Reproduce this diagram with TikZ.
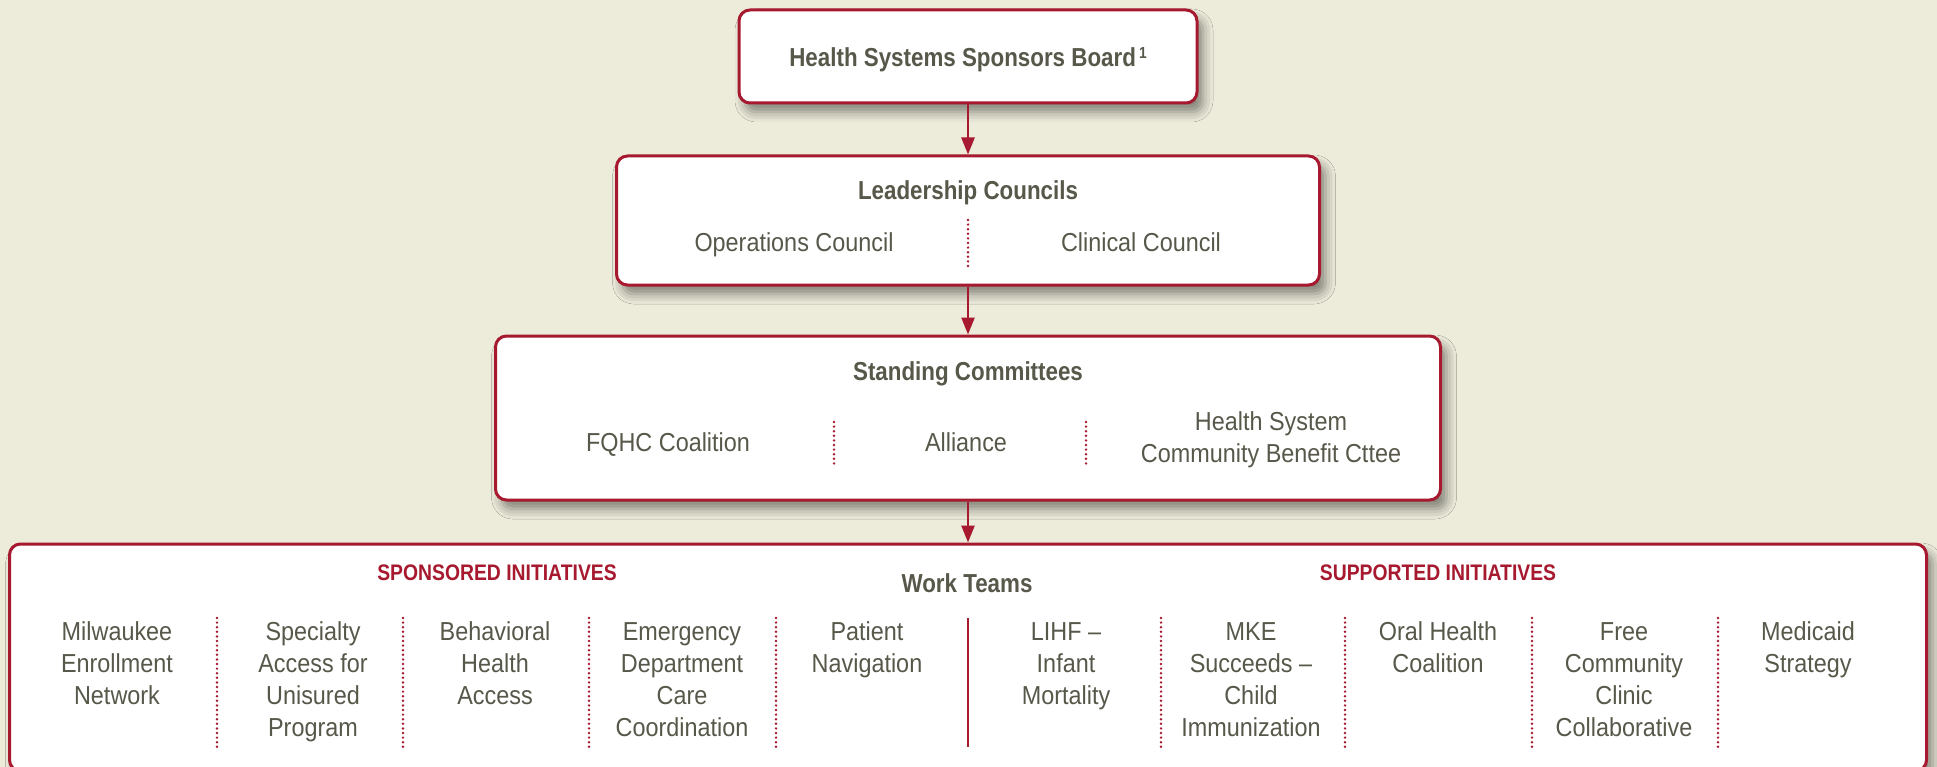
\documentclass[tikz,border=0pt]{standalone}
\usepackage{fontspec}
\setmainfont{Liberation Sans}[FakeStretch=0.9, BoldFeatures={FakeStretch=0.86}]
\usetikzlibrary{shadows.blur, arrows.meta}
\definecolor{bgc}{RGB}{237,235,218}
\definecolor{crim}{RGB}{166,25,46}
\definecolor{txt}{RGB}{87,87,74}
\newcommand{\stk}[1]{\begin{tabular}[t]{@{}c@{}}#1\end{tabular}}
\tikzset{
 box/.style={draw=crim, line width=3pt, fill=white, rounded corners=11pt,
   blur shadow={shadow xshift=6pt, shadow yshift=-9pt, shadow blur radius=10pt, shadow opacity=45},
   inner sep=0pt},
 lbl/.style={text=txt, font=\fontsize{26}{32}\selectfont, inner sep=0pt, anchor=base},
 ttl/.style={text=txt, font=\fontsize{26}{32}\selectfont\bfseries, inner sep=0pt, anchor=base},
 capt/.style={text=crim, font=\fontsize{22.5}{26}\selectfont\bfseries, inner sep=0pt, anchor=base},
 conn/.style={draw=crim, line width=2.5pt, -{Triangle[length=17pt,width=13pt]}},
 sepd/.style={draw=crim, line width=2.7pt, line cap=round, dash pattern=on 0pt off 4.6pt},
 seps/.style={draw=crim, line width=2.5pt},
}
\begin{document}
\begin{tikzpicture}[x=1pt,y=-1pt]
\useasboundingbox (0,0) rectangle (1937,767);
\fill[bgc] (0,0) rectangle (1937,767);

% boxes
\node[box, minimum width=458pt, minimum height=93pt] (b1) at (968,56.5) {};
\node[box, minimum width=703pt, minimum height=129pt] (b2) at (968,220.5) {};
\node[box, minimum width=945pt, minimum height=164pt] (b3) at (968,418) {};
\node[box, minimum width=1917pt, minimum height=227pt] (b4) at (968,657.5) {};

% connectors
\draw[conn] (b1.south) -- (b2.north);
\draw[conn] (b2.south) -- (b3.north);
\draw[conn] (b3.south) -- (b4.north);

% box 1
\node[ttl] (t1) at (968,67) {Health Systems Sponsors Board\kern3pt{\fontsize{16}{16}\selectfont\bfseries\raisebox{8pt}{1}}};

% box 2
\node[ttl] (t2) at (968,200) {Leadership Councils};
\node[lbl] (ops) at (794,252) {Operations Council};
\node[lbl] (cli) at (1141,252) {Clinical Council};
\coordinate (s2a) at (968,220);
\coordinate (s2b) at (968,266);
\draw[sepd] (s2a) -- (s2b);

% box 3
\node[ttl] (t3) at (968,380) {Standing Committees};
\node[lbl] (fq) at (668,451) {FQHC Coalition};
\node[lbl] (al) at (966,451) {Alliance};
\node[lbl] (hs) at (1271,430) {\stk{Health System\\Community Benefit Cttee}};
\coordinate (s3a) at (834,422);
\coordinate (s3b) at (834,467);
\coordinate (s3c) at (1086,422);
\coordinate (s3d) at (1086,467);
\draw[sepd] (s3a) -- (s3b);
\draw[sepd] (s3c) -- (s3d);

% box 4
\node[capt] (spo) at (497,580) {SPONSORED INITIATIVES};
\node[capt] (sup) at (1438,580) {SUPPORTED INITIATIVES};
\node[ttl] (wt) at (967,592) {Work Teams};

\foreach \x/\t [count=\i] in {
  117/{Milwaukee\\Enrollment\\Network},
  313/{Specialty\\Access for\\Unisured\\Program},
  495/{Behavioral\\Health\\Access},
  682/{Emergency\\Department\\Care\\Coordination},
  867/{Patient\\Navigation},
  1066/{LIHF~--\\Infant\\Mortality},
  1251/{MKE\\Succeeds~--\\Child\\Immunization},
  1438/{Oral Health\\Coalition},
  1624/{Free\\Community\\Clinic\\Collaborative},
  1808/{Medicaid\\Strategy}}
  \node[lbl] (c\i) at (\x,640) {\stk{\t}};

\foreach \x [count=\i] in {217,403,589,776,1161,1345,1532,1718} {
  \coordinate (d\i a) at (\x,618);
  \coordinate (d\i b) at (\x,747);
  \draw[sepd] (d\i a) -- (d\i b);
}
\coordinate (m1) at (968,618);
\coordinate (m2) at (968,747);
\draw[seps] (m1) -- (m2);
\end{tikzpicture}
\end{document}
